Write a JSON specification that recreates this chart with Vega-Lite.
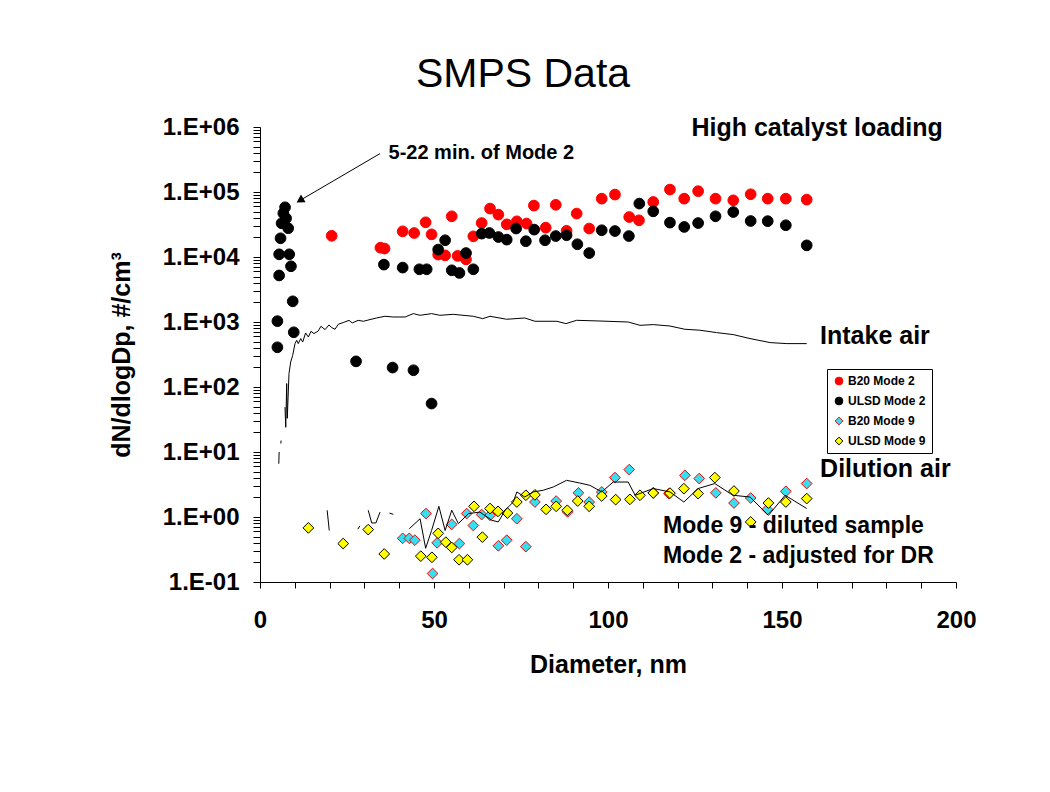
{
  "$schema": "https://vega.github.io/schema/vega-lite/v6.json",
  "width": 696,
  "height": 455,
  "autosize": {"type": "none"},
  "padding": {"left": 260, "top": 127, "right": 94, "bottom": 210},
  "background": "white",
  "config": {"view": {"stroke": null}, "font": "Liberation Sans"},
  "title": {"text": "SMPS Data", "fontSize": 41, "fontWeight": "normal", "font": "Liberation Sans", "color": "black", "dx": -85, "offset": -13, "anchor": "middle", "frame": "group", "baseline": "alphabetic"},
  "datasets": {
    "pts": [
      {"d": 20.6, "v": 21200, "s": "B20 Mode 2"}, {"d": 34.6, "v": 13900, "s": "B20 Mode 2"}, {"d": 35.8, "v": 13500, "s": "B20 Mode 2"}, {"d": 41.0, "v": 24800, "s": "B20 Mode 2"}, {"d": 44.3, "v": 23400, "s": "B20 Mode 2"}, {"d": 47.6, "v": 34200, "s": "B20 Mode 2"}, {"d": 49.3, "v": 22300, "s": "B20 Mode 2"}, {"d": 55.1, "v": 42300, "s": "B20 Mode 2"}, {"d": 51.2, "v": 10900, "s": "B20 Mode 2"}, {"d": 53.2, "v": 10600, "s": "B20 Mode 2"}, {"d": 56.8, "v": 10400, "s": "B20 Mode 2"}, {"d": 59.2, "v": 9200, "s": "B20 Mode 2"}, {"d": 61.3, "v": 20800, "s": "B20 Mode 2"}, {"d": 63.7, "v": 33300, "s": "B20 Mode 2"}, {"d": 66.1, "v": 55600, "s": "B20 Mode 2"}, {"d": 68.5, "v": 44900, "s": "B20 Mode 2"}, {"d": 70.9, "v": 31800, "s": "B20 Mode 2"}, {"d": 73.8, "v": 35400, "s": "B20 Mode 2"}, {"d": 76.6, "v": 32700, "s": "B20 Mode 2"}, {"d": 78.7, "v": 61800, "s": "B20 Mode 2"}, {"d": 82.1, "v": 28300, "s": "B20 Mode 2"}, {"d": 85.0, "v": 63500, "s": "B20 Mode 2"}, {"d": 88.1, "v": 25300, "s": "B20 Mode 2"}, {"d": 91.0, "v": 46600, "s": "B20 Mode 2"}, {"d": 94.6, "v": 27400, "s": "B20 Mode 2"}, {"d": 98.2, "v": 79000, "s": "B20 Mode 2"}, {"d": 102.0, "v": 91200, "s": "B20 Mode 2"}, {"d": 106.1, "v": 41200, "s": "B20 Mode 2"}, {"d": 108.9, "v": 36700, "s": "B20 Mode 2"}, {"d": 113.0, "v": 70200, "s": "B20 Mode 2"}, {"d": 117.8, "v": 109000, "s": "B20 Mode 2"}, {"d": 121.9, "v": 79000, "s": "B20 Mode 2"}, {"d": 125.9, "v": 103000, "s": "B20 Mode 2"}, {"d": 130.9, "v": 79000, "s": "B20 Mode 2"}, {"d": 136.0, "v": 74500, "s": "B20 Mode 2"}, {"d": 141.0, "v": 92300, "s": "B20 Mode 2"}, {"d": 145.9, "v": 79000, "s": "B20 Mode 2"}, {"d": 151.1, "v": 79000, "s": "B20 Mode 2"}, {"d": 157.1, "v": 76400, "s": "B20 Mode 2"},
      {"d": 7.2, "v": 58200, "s": "ULSD Mode 2"}, {"d": 6.7, "v": 47000, "s": "ULSD Mode 2"}, {"d": 7.5, "v": 39400, "s": "ULSD Mode 2"}, {"d": 6.2, "v": 33000, "s": "ULSD Mode 2"}, {"d": 8.1, "v": 27700, "s": "ULSD Mode 2"}, {"d": 5.9, "v": 19400, "s": "ULSD Mode 2"}, {"d": 5.5, "v": 11000, "s": "ULSD Mode 2"}, {"d": 8.4, "v": 11000, "s": "ULSD Mode 2"}, {"d": 8.9, "v": 7200, "s": "ULSD Mode 2"}, {"d": 5.5, "v": 5200, "s": "ULSD Mode 2"}, {"d": 9.4, "v": 2080, "s": "ULSD Mode 2"}, {"d": 5.0, "v": 1030, "s": "ULSD Mode 2"}, {"d": 9.7, "v": 695, "s": "ULSD Mode 2"}, {"d": 5.0, "v": 408, "s": "ULSD Mode 2"},
      {"d": 27.6, "v": 248, "s": "ULSD Mode 2"}, {"d": 38.1, "v": 199, "s": "ULSD Mode 2"}, {"d": 44.1, "v": 181, "s": "ULSD Mode 2"}, {"d": 49.3, "v": 55.6, "s": "ULSD Mode 2"},
      {"d": 35.6, "v": 7640, "s": "ULSD Mode 2"}, {"d": 41.0, "v": 6870, "s": "ULSD Mode 2"}, {"d": 45.8, "v": 6470, "s": "ULSD Mode 2"}, {"d": 47.9, "v": 6470, "s": "ULSD Mode 2"}, {"d": 51.2, "v": 13000, "s": "ULSD Mode 2"}, {"d": 53.2, "v": 18100, "s": "ULSD Mode 2"}, {"d": 55.1, "v": 6240, "s": "ULSD Mode 2"}, {"d": 57.3, "v": 5680, "s": "ULSD Mode 2"}, {"d": 59.2, "v": 11500, "s": "ULSD Mode 2"}, {"d": 61.3, "v": 6470, "s": "ULSD Mode 2"}, {"d": 63.7, "v": 22900, "s": "ULSD Mode 2"}, {"d": 65.9, "v": 23400, "s": "ULSD Mode 2"}, {"d": 68.5, "v": 20300, "s": "ULSD Mode 2"}, {"d": 70.9, "v": 18500, "s": "ULSD Mode 2"}, {"d": 73.6, "v": 27400, "s": "ULSD Mode 2"}, {"d": 76.4, "v": 17500, "s": "ULSD Mode 2"}, {"d": 78.8, "v": 26400, "s": "ULSD Mode 2"}, {"d": 81.9, "v": 18100, "s": "ULSD Mode 2"}, {"d": 85.0, "v": 21000, "s": "ULSD Mode 2"}, {"d": 88.1, "v": 21600, "s": "ULSD Mode 2"}, {"d": 91.2, "v": 15700, "s": "ULSD Mode 2"}, {"d": 94.6, "v": 11500, "s": "ULSD Mode 2"}, {"d": 98.2, "v": 25800, "s": "ULSD Mode 2"}, {"d": 102.0, "v": 25100, "s": "ULSD Mode 2"}, {"d": 106.0, "v": 21000, "s": "ULSD Mode 2"}, {"d": 109.0, "v": 66400, "s": "ULSD Mode 2"}, {"d": 113.0, "v": 50400, "s": "ULSD Mode 2"}, {"d": 117.8, "v": 33800, "s": "ULSD Mode 2"}, {"d": 121.9, "v": 29000, "s": "ULSD Mode 2"}, {"d": 125.9, "v": 33300, "s": "ULSD Mode 2"}, {"d": 130.9, "v": 42300, "s": "ULSD Mode 2"}, {"d": 136.0, "v": 49200, "s": "ULSD Mode 2"}, {"d": 141.0, "v": 35800, "s": "ULSD Mode 2"}, {"d": 145.9, "v": 35600, "s": "ULSD Mode 2"}, {"d": 151.1, "v": 30800, "s": "ULSD Mode 2"}, {"d": 157.1, "v": 15100, "s": "ULSD Mode 2"},
      {"d": 41.0, "v": 0.47, "s": "B20 Mode 9"}, {"d": 42.9, "v": 0.47, "s": "B20 Mode 9"}, {"d": 44.5, "v": 0.44, "s": "B20 Mode 9"}, {"d": 47.7, "v": 1.13, "s": "B20 Mode 9"}, {"d": 49.6, "v": 0.135, "s": "B20 Mode 9"}, {"d": 50.9, "v": 0.40, "s": "B20 Mode 9"}, {"d": 55.1, "v": 0.77, "s": "B20 Mode 9"}, {"d": 57.3, "v": 0.39, "s": "B20 Mode 9"}, {"d": 59.4, "v": 1.13, "s": "B20 Mode 9"}, {"d": 61.3, "v": 0.74, "s": "B20 Mode 9"}, {"d": 63.7, "v": 1.09, "s": "B20 Mode 9"}, {"d": 66.1, "v": 1.06, "s": "B20 Mode 9"}, {"d": 68.5, "v": 0.36, "s": "B20 Mode 9"}, {"d": 70.9, "v": 0.44, "s": "B20 Mode 9"}, {"d": 73.8, "v": 0.94, "s": "B20 Mode 9"}, {"d": 76.4, "v": 0.35, "s": "B20 Mode 9"}, {"d": 79.0, "v": 1.70, "s": "B20 Mode 9"}, {"d": 85.1, "v": 1.76, "s": "B20 Mode 9"}, {"d": 88.4, "v": 1.20, "s": "B20 Mode 9"}, {"d": 91.5, "v": 2.35, "s": "B20 Mode 9"}, {"d": 94.6, "v": 1.70, "s": "B20 Mode 9"}, {"d": 98.2, "v": 2.43, "s": "B20 Mode 9"}, {"d": 102.0, "v": 4.04, "s": "B20 Mode 9"}, {"d": 106.1, "v": 5.36, "s": "B20 Mode 9"}, {"d": 113.0, "v": 2.35, "s": "B20 Mode 9"}, {"d": 117.5, "v": 2.29, "s": "B20 Mode 9"}, {"d": 122.1, "v": 4.38, "s": "B20 Mode 9"}, {"d": 126.2, "v": 3.90, "s": "B20 Mode 9"}, {"d": 131.0, "v": 2.35, "s": "B20 Mode 9"}, {"d": 136.2, "v": 1.64, "s": "B20 Mode 9"}, {"d": 141.0, "v": 1.96, "s": "B20 Mode 9"}, {"d": 145.8, "v": 1.31, "s": "B20 Mode 9"}, {"d": 151.1, "v": 2.48, "s": "B20 Mode 9"}, {"d": 157.1, "v": 3.27, "s": "B20 Mode 9"},
      {"d": 13.9, "v": 0.68, "s": "ULSD Mode 9"}, {"d": 23.9, "v": 0.39, "s": "ULSD Mode 9"}, {"d": 31.1, "v": 0.64, "s": "ULSD Mode 9"}, {"d": 35.7, "v": 0.27, "s": "ULSD Mode 9"}, {"d": 46.2, "v": 0.25, "s": "ULSD Mode 9"}, {"d": 49.4, "v": 0.24, "s": "ULSD Mode 9"}, {"d": 51.2, "v": 0.56, "s": "ULSD Mode 9"}, {"d": 53.4, "v": 0.41, "s": "ULSD Mode 9"}, {"d": 55.1, "v": 0.34, "s": "ULSD Mode 9"}, {"d": 57.2, "v": 0.22, "s": "ULSD Mode 9"}, {"d": 59.6, "v": 0.22, "s": "ULSD Mode 9"}, {"d": 61.5, "v": 1.46, "s": "ULSD Mode 9"}, {"d": 63.9, "v": 0.49, "s": "ULSD Mode 9"}, {"d": 66.1, "v": 1.35, "s": "ULSD Mode 9"}, {"d": 68.4, "v": 1.22, "s": "ULSD Mode 9"}, {"d": 71.1, "v": 1.15, "s": "ULSD Mode 9"}, {"d": 73.8, "v": 1.70, "s": "ULSD Mode 9"}, {"d": 76.4, "v": 2.16, "s": "ULSD Mode 9"}, {"d": 79.0, "v": 2.19, "s": "ULSD Mode 9"}, {"d": 82.2, "v": 1.31, "s": "ULSD Mode 9"}, {"d": 85.1, "v": 1.46, "s": "ULSD Mode 9"}, {"d": 88.3, "v": 1.27, "s": "ULSD Mode 9"}, {"d": 91.3, "v": 1.76, "s": "ULSD Mode 9"}, {"d": 94.6, "v": 1.46, "s": "ULSD Mode 9"}, {"d": 98.2, "v": 2.10, "s": "ULSD Mode 9"}, {"d": 102.2, "v": 1.85, "s": "ULSD Mode 9"}, {"d": 106.3, "v": 1.87, "s": "ULSD Mode 9"}, {"d": 109.2, "v": 2.16, "s": "ULSD Mode 9"}, {"d": 113.0, "v": 2.34, "s": "ULSD Mode 9"}, {"d": 117.8, "v": 2.33, "s": "ULSD Mode 9"}, {"d": 121.8, "v": 2.73, "s": "ULSD Mode 9"}, {"d": 125.9, "v": 2.29, "s": "ULSD Mode 9"}, {"d": 130.7, "v": 4.04, "s": "ULSD Mode 9"}, {"d": 136.2, "v": 2.51, "s": "ULSD Mode 9"}, {"d": 141.0, "v": 0.84, "s": "ULSD Mode 9"}, {"d": 146.1, "v": 1.64, "s": "ULSD Mode 9"}, {"d": 151.1, "v": 1.70, "s": "ULSD Mode 9"}, {"d": 157.1, "v": 1.92, "s": "ULSD Mode 9"}
    ],
    "lines": [
      {"d": 5.4, "v": 6.6, "line": "Intake air"}, {"d": 5.5, "v": 10, "line": "Intake air"}, {"d": 5.7, "v": null, "line": "Intake air"}, {"d": 6.0, "v": 13.5, "line": "Intake air"}, {"d": 6.05, "v": 15, "line": "Intake air"}, {"d": 6.5, "v": null, "line": "Intake air"}, {"d": 7.18, "v": 49, "line": "Intake air"}, {"d": 7.4, "v": 24, "line": "Intake air"}, {"d": 7.67, "v": 113, "line": "Intake air"}, {"d": 7.84, "v": 33, "line": "Intake air"}, {"d": 8.33, "v": 161, "line": "Intake air"}, {"d": 8.82, "v": 243, "line": "Intake air"}, {"d": 9.4, "v": 307, "line": "Intake air"}, {"d": 10.06, "v": 465, "line": "Intake air"}, {"d": 10.55, "v": 523, "line": "Intake air"}, {"d": 11.0, "v": 465, "line": "Intake air"}, {"d": 11.7, "v": 556, "line": "Intake air"}, {"d": 12.27, "v": 492, "line": "Intake air"}, {"d": 13.1, "v": 678, "line": "Intake air"}, {"d": 13.9, "v": 588, "line": "Intake air"}, {"d": 14.66, "v": 719, "line": "Intake air"}, {"d": 15.5, "v": 663, "line": "Intake air"}, {"d": 16.75, "v": 728, "line": "Intake air"}, {"d": 17.5, "v": 859, "line": "Intake air"}, {"d": 18.7, "v": 764, "line": "Intake air"}, {"d": 19.8, "v": 900, "line": "Intake air"}, {"d": 20.6, "v": 820, "line": "Intake air"}, {"d": 21.55, "v": 773, "line": "Intake air"}, {"d": 22.5, "v": 923, "line": "Intake air"}, {"d": 23.9, "v": 980, "line": "Intake air"}, {"d": 25.6, "v": 1060, "line": "Intake air"}, {"d": 26.5, "v": 966, "line": "Intake air"}, {"d": 28.2, "v": 1060, "line": "Intake air"}, {"d": 29.7, "v": 1026, "line": "Intake air"}, {"d": 31.6, "v": 1089, "line": "Intake air"}, {"d": 33.5, "v": 1153, "line": "Intake air"}, {"d": 35.9, "v": 1224, "line": "Intake air"}, {"d": 38.3, "v": 1194, "line": "Intake air"}, {"d": 41.7, "v": 1194, "line": "Intake air"}, {"d": 44.05, "v": 1346, "line": "Intake air"}, {"d": 46.0, "v": 1268, "line": "Intake air"}, {"d": 49.3, "v": 1346, "line": "Intake air"}, {"d": 51.7, "v": 1268, "line": "Intake air"}, {"d": 55.5, "v": 1312, "line": "Intake air"}, {"d": 61.3, "v": 1224, "line": "Intake air"}, {"d": 64.0, "v": 1127, "line": "Intake air"}, {"d": 66.1, "v": 1224, "line": "Intake air"}, {"d": 70.9, "v": 1102, "line": "Intake air"}, {"d": 76.1, "v": 1153, "line": "Intake air"}, {"d": 79.0, "v": 1026, "line": "Intake air"}, {"d": 85.3, "v": 1026, "line": "Intake air"}, {"d": 87.9, "v": 944, "line": "Intake air"}, {"d": 91.0, "v": 1062, "line": "Intake air"}, {"d": 97.7, "v": 1035, "line": "Intake air"}, {"d": 105.8, "v": 1000, "line": "Intake air"}, {"d": 109.2, "v": 889, "line": "Intake air"}, {"d": 113.0, "v": 912, "line": "Intake air"}, {"d": 117.8, "v": 867, "line": "Intake air"}, {"d": 122.1, "v": 773, "line": "Intake air"}, {"d": 126.4, "v": 748, "line": "Intake air"}, {"d": 131.2, "v": 687, "line": "Intake air"}, {"d": 136.0, "v": 640, "line": "Intake air"}, {"d": 140.8, "v": 556, "line": "Intake air"}, {"d": 146.6, "v": 482, "line": "Intake air"}, {"d": 151.4, "v": 465, "line": "Intake air"}, {"d": 157.1, "v": 465, "line": "Intake air"},
      {"d": 19.3, "v": 1.27, "line": "Dilution air"}, {"d": 19.9, "v": 0.62, "line": "Dilution air"}, {"d": 20.5, "v": null, "line": "Dilution air"}, {"d": 28.1, "v": 0.65, "line": "Dilution air"}, {"d": 28.7, "v": 0.73, "line": "Dilution air"}, {"d": 29.9, "v": null, "line": "Dilution air"}, {"d": 31.1, "v": 1.27, "line": "Dilution air"}, {"d": 32.1, "v": 0.81, "line": "Dilution air"}, {"d": 33.3, "v": 0.81, "line": "Dilution air"}, {"d": 34.5, "v": 1.19, "line": "Dilution air"}, {"d": 35.8, "v": null, "line": "Dilution air"}, {"d": 37.2, "v": 1.15, "line": "Dilution air"}, {"d": 38.3, "v": 1.10, "line": "Dilution air"}, {"d": 40.5, "v": null, "line": "Dilution air"}, {"d": 42.9, "v": 0.66, "line": "Dilution air"}, {"d": 46.0, "v": 0.94, "line": "Dilution air"}, {"d": 47.6, "v": 0.33, "line": "Dilution air"}, {"d": 49.3, "v": 0.62, "line": "Dilution air"}, {"d": 51.4, "v": 1.46, "line": "Dilution air"}, {"d": 53.2, "v": 0.62, "line": "Dilution air"}, {"d": 55.1, "v": 1.27, "line": "Dilution air"}, {"d": 57.0, "v": 0.79, "line": "Dilution air"}, {"d": 59.9, "v": 1.13, "line": "Dilution air"}, {"d": 63.2, "v": 1.19, "line": "Dilution air"}, {"d": 66.6, "v": 0.89, "line": "Dilution air"}, {"d": 68.5, "v": 0.84, "line": "Dilution air"}, {"d": 70.4, "v": 1.27, "line": "Dilution air"}, {"d": 72.8, "v": 1.70, "line": "Dilution air"}, {"d": 73.8, "v": 2.43, "line": "Dilution air"}, {"d": 76.1, "v": 2.03, "line": "Dilution air"}, {"d": 78.5, "v": 2.43, "line": "Dilution air"}, {"d": 81.4, "v": 2.58, "line": "Dilution air"}, {"d": 84.3, "v": 2.90, "line": "Dilution air"}, {"d": 88.1, "v": 3.67, "line": "Dilution air"}, {"d": 91.9, "v": 3.33, "line": "Dilution air"}, {"d": 94.8, "v": 3.07, "line": "Dilution air"}, {"d": 98.2, "v": 2.43, "line": "Dilution air"}, {"d": 101.5, "v": 3.45, "line": "Dilution air"}, {"d": 105.8, "v": 3.45, "line": "Dilution air"}, {"d": 107.8, "v": 2.16, "line": "Dilution air"}, {"d": 113.0, "v": 2.74, "line": "Dilution air"}, {"d": 117.8, "v": 2.43, "line": "Dilution air"}, {"d": 121.8, "v": 1.70, "line": "Dilution air"}, {"d": 125.9, "v": 2.74, "line": "Dilution air"}, {"d": 130.7, "v": 3.27, "line": "Dilution air"}, {"d": 135.9, "v": 2.16, "line": "Dilution air"}, {"d": 140.8, "v": 2.03, "line": "Dilution air"}, {"d": 146.1, "v": 1.06, "line": "Dilution air"}, {"d": 150.9, "v": 2.16, "line": "Dilution air"}, {"d": 157.1, "v": 1.35, "line": "Dilution air"},
      {"d": 34.5, "v": 390000, "line": "arrow"}, {"d": 11.8, "v": 75900, "line": "arrow"}
    ],
    "arrowhead": [{"d": 11.8, "v": 75900}],
    "bigText": [
      {"d": 160.1, "v": 955000, "t": "High catalyst loading"},
      {"d": 176.7, "v": 603, "t": "Intake air"},
      {"d": 179.7, "v": 5.42, "t": "Dilution air"}
    ],
    "midText": [
      {"d": 153.3, "v": 0.738, "t": "Mode 9 - diluted sample"},
      {"d": 154.7, "v": 0.255, "t": "Mode 2 - adjusted for DR"}
    ],
    "smallText": [
      {"d": 63.6, "v": 400000, "t": "5-22 min. of Mode 2"}
    ]
  },
  "layer": [
    {
      "data": {"name": "pts"},
      "mark": {"type": "point", "size": 115, "strokeWidth": 1, "opacity": 1},
      "encoding": {
        "x": {"field": "d", "type": "quantitative", "scale": {"domain": [0, 200], "nice": false},
          "axis": {"values": [0, 10, 20, 30, 40, 50, 60, 70, 80, 90, 100, 110, 120, 130, 140, 150, 160, 170, 180, 190, 200],
            "tickCount": 100,
            "labelExpr": "datum.value % 50 === 0 ? format(datum.value, 'd') : ''",
            "title": "Diameter, nm", "grid": false, "tickSize": 6, "tickColor": "black", "domainColor": "black",
            "labelFont": "Liberation Sans", "labelFontSize": 24, "labelFontWeight": "bold", "labelColor": "black", "labelPadding": 20,
            "labelOverlap": false, "labelSeparation": 0, "labelFlush": false,
            "titleFont": "Liberation Sans", "titleFontSize": 25, "titleFontWeight": "bold", "titleColor": "black", "titlePadding": 20}},
        "y": {"field": "v", "type": "quantitative", "scale": {"type": "log", "domain": [0.1, 1000000], "nice": false},
          "axis": {"values": [0.1, 0.2, 0.3, 0.4, 0.5, 0.6, 0.7, 0.8, 0.9, 1, 2, 3, 4, 5, 6, 7, 8, 9, 10, 20, 30, 40, 50, 60, 70, 80, 90, 100, 200, 300, 400, 500, 600, 700, 800, 900, 1000, 2000, 3000, 4000, 5000, 6000, 7000, 8000, 9000, 10000, 20000, 30000, 40000, 50000, 60000, 70000, 80000, 90000, 100000, 200000, 300000, 400000, 500000, 600000, 700000, 800000, 900000, 1000000],
            "tickCount": 200,
            "labelExpr": "abs(log(datum.value)/LN10 - round(log(datum.value)/LN10)) < 0.001 ? '1.E' + (datum.value >= 1 ? '+' : '-') + pad('' + abs(round(log(datum.value)/LN10)), 2, '0', 'left') : ''",
            "title": "dN/dlogDp, #/cm³", "grid": false, "tickSize": 7, "tickColor": "black", "domainColor": "black",
            "labelFont": "Liberation Sans", "labelFontSize": 24, "labelFontWeight": "bold", "labelColor": "black", "labelPadding": 14,
            "labelOverlap": false, "labelSeparation": 0, "labelFlush": false, "labelBound": false,
            "titleFont": "Liberation Sans", "titleFontSize": 25, "titleFontWeight": "bold", "titleColor": "black", "titlePadding": 28}},
        "fill": {"field": "s", "type": "nominal",
          "scale": {"domain": ["B20 Mode 2", "ULSD Mode 2", "B20 Mode 9", "ULSD Mode 9"], "range": ["#ff0000", "#000000", "#33dff0", "#ffff00"]},
          "legend": {"title": null, "orient": "none", "legendX": 567, "legendY": 242, "padding": 6, "strokeColor": "black", "fillColor": "white",
            "labelFont": "Liberation Sans", "labelFontSize": 12, "labelFontWeight": "bold", "labelColor": "black", "symbolSize": 60,
            "rowPadding": 8, "labelOffset": 3, "symbolStrokeWidth": 1, "symbolOpacity": 1, "cornerRadius": 0}},
        "stroke": {"field": "s", "type": "nominal",
          "scale": {"domain": ["B20 Mode 2", "ULSD Mode 2", "B20 Mode 9", "ULSD Mode 9"], "range": ["#ff0000", "#000000", "#ff0000", "#000000"]}},
        "shape": {"field": "s", "type": "nominal",
          "scale": {"domain": ["B20 Mode 2", "ULSD Mode 2", "B20 Mode 9", "ULSD Mode 9"], "range": ["circle", "circle", "diamond", "diamond"]}}
      }
    },
    {
      "data": {"name": "lines"},
      "mark": {"type": "line", "color": "black", "strokeWidth": 1, "invalid": "break-paths-filter-domains"},
      "encoding": {
        "x": {"field": "d", "type": "quantitative"},
        "y": {"field": "v", "type": "quantitative"},
        "detail": {"field": "line", "type": "nominal"}
      }
    },
    {
      "data": {"name": "arrowhead"},
      "mark": {"type": "point", "shape": "triangle", "angle": 239, "size": 80, "filled": true, "color": "black", "opacity": 1},
      "encoding": {
        "x": {"field": "d", "type": "quantitative"},
        "y": {"field": "v", "type": "quantitative"}
      }
    },
    {
      "data": {"name": "bigText"},
      "mark": {"type": "text", "font": "Liberation Sans", "fontSize": 25, "fontWeight": "bold", "color": "black", "align": "center", "baseline": "middle"},
      "encoding": {
        "x": {"field": "d", "type": "quantitative"},
        "y": {"field": "v", "type": "quantitative"},
        "text": {"field": "t"}
      }
    },
    {
      "data": {"name": "midText"},
      "mark": {"type": "text", "font": "Liberation Sans", "fontSize": 23, "fontWeight": "bold", "color": "black", "align": "center", "baseline": "middle"},
      "encoding": {
        "x": {"field": "d", "type": "quantitative"},
        "y": {"field": "v", "type": "quantitative"},
        "text": {"field": "t"}
      }
    },
    {
      "data": {"name": "smallText"},
      "mark": {"type": "text", "font": "Liberation Sans", "fontSize": 20, "fontWeight": "bold", "color": "black", "align": "center", "baseline": "middle"},
      "encoding": {
        "x": {"field": "d", "type": "quantitative"},
        "y": {"field": "v", "type": "quantitative"},
        "text": {"field": "t"}
      }
    }
  ]
}
